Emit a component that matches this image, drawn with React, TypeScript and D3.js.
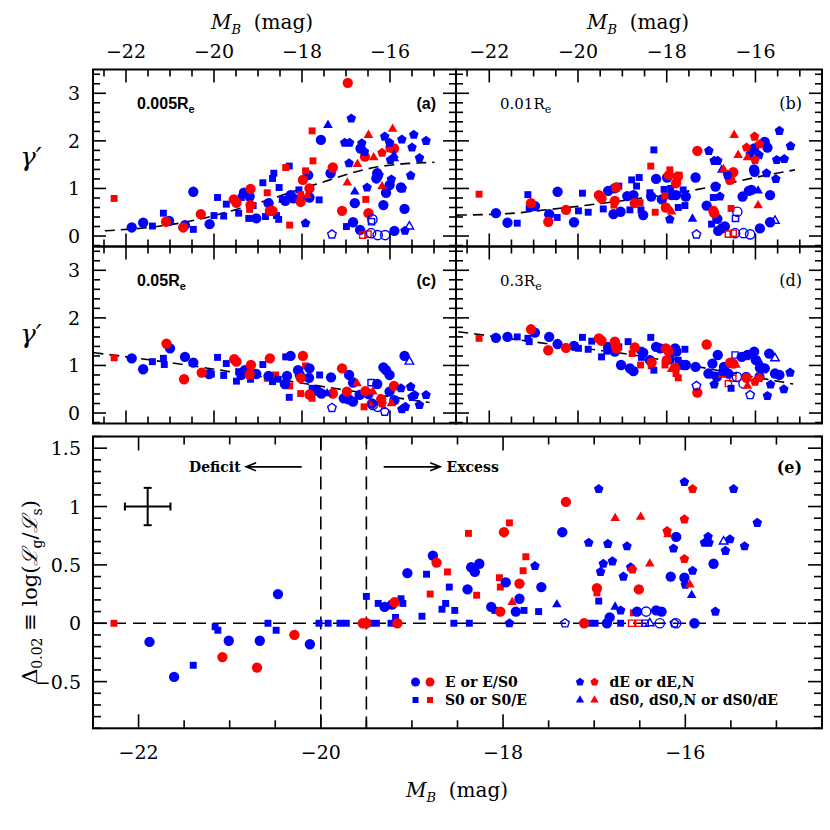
import React, { useEffect, useRef } from "react";
import * as d3 from "d3";

type Gal = { mb: number; v: number; type: string; col: string; open: boolean };

// helper: tag a group of [M_B, value] pairs with a morphology, colour and open/filled flag
function tag(type: string, col: string, pts: number[][], open = false): Gal[] {
  return pts.map(([mb, v]) => ({ mb, v, type, col, open }));
}

// ---- axis ticks ----
const magMajor = [-22, -20, -18, -16];
const magLabels = ["\u221222", "\u221220", "\u221218", "\u221216"];
const gammaMajor = [0, 1, 2, 3];
const gammaLabels = ["0", "1", "2", "3"];
const deltaMajor = [-0.5, 0, 0.5, 1, 1.5];
const deltaLabels = ["\u22120.5", "0", "0.5", "1", "1.5"];

// ---- panel (a): gamma' at 0.005 Re ----
const gamma0005: Gal[] = [
  ...tag("E", "b", [[-21.87,0.18],[-21.61,0.28],[-21.02,0.32],[-20.66,0.23],[-20.47,0.93],[-20.1,0.25],[-19.32,0.91],[-19.19,0.83],[-19.04,0.37],[-18.76,0.69],[-18.38,0.74],[-18.26,0.86],[-18.2,0.79],[-17.83,0.81],[-17.86,1.28],[-17.57,2.02],[-17.35,1.32],[-16.84,0.29],[-16.8,0.69],[-16.67,1.84],[-16.31,1.21],[-16.29,1.32],[-16.15,0.65],[-16.09,0.91],[-16.01,1.07],[-15.75,1.02],[-15.67,0.57],[-15.9,0.11],[-16.68,0.13]]),
  ...tag("S0", "b", [[-21.4,0.21],[-21.15,0.48],[-20.47,0.14],[-20.0,0.43],[-19.92,0.81],[-19.78,0.42],[-19.72,0.67],[-19.44,0.48],[-19.38,0.81],[-19.21,0.37],[-19.11,0.64],[-18.89,1.12],[-18.83,0.41],[-18.67,1.21],[-18.64,1.32],[-18.52,1.02],[-18.58,0.43],[-18.53,0.35],[-18.29,1.47],[-18.07,0.97],[-17.61,0.76],[-16.99,0.2],[-18.45,0.77]]),
  ...tag("E", "r", [[-21.09,0.3],[-20.7,0.18],[-20.3,0.46],[-19.55,0.77],[-19.49,0.7],[-19.17,0.99],[-19.17,0.65],[-18.73,0.53],[-18.67,0.53],[-18.03,0.72],[-17.98,1.18],[-17.83,1.0],[-17.3,1.44],[-17.09,0.53],[-16.96,3.22],[-16.57,1.67],[-16.49,0.48],[-15.99,1.86],[-15.91,1.84]]),
  ...tag("S0", "r", [[-22.27,0.79],[-19.19,0.56],[-18.79,0.91],[-18.37,1.44],[-18.28,0.23],[-18.03,0.87],[-17.92,1.37],[-17.75,1.58],[-17.77,2.21],[-16.55,0.77]]),
  ...tag("S0", "r", [[-16.62,0.02],[-16.5,0.04]], true),
  ...tag("dE", "b", [[-17.92,0.27],[-16.88,2.47],[-17.03,1.96],[-16.92,1.96],[-16.93,1.53],[-16.64,1.95],[-16.58,1.77],[-16.52,1.02],[-16.25,1.28],[-16.12,2.09],[-16.01,1.96],[-15.99,1.6],[-15.97,1.19],[-15.73,2.03],[-15.72,1.0],[-15.53,1.27],[-15.5,1.86],[-15.46,2.13],[-15.33,1.64],[-15.18,2.0],[-15.66,0.11]]),
  ...tag("dE", "b", [[-17.32,0.035]], true),
  ...tag("dE", "r", [[-16.18,1.75]]),
  ...tag("dS0", "b", [[-17.41,2.33],[-17.88,0.84],[-16.8,0.93],[-15.91,1.7],[-15.9,1.63]]),
  ...tag("dS0", "b", [[-15.56,0.2]], true),
  ...tag("dS0", "r", [[-16.49,2.12],[-15.94,2.25],[-16.37,1.65],[-16.74,1.51],[-16.97,1.12],[-16.18,1.04],[-17.88,0.85]]),
  ...tag("E", "b", [[-16.43,0.06],[-16.28,0.02],[-16.11,0.02],[-16.4,0.35]], true),
  ...tag("S0", "b", [[-16.42,0.3]], true),
];

// ---- panel (b): gamma' at 0.01 Re ----
const gamma001: Gal[] = [
  ...tag("E", "b", [[-21.85,0.48],[-21.59,0.28],[-20.97,0.63],[-20.65,0.46],[-20.46,0.93],[-20.09,0.29],[-19.32,0.95],[-19.18,1.0],[-19.2,0.46],[-19.04,0.51],[-18.89,0.84],[-18.75,0.86],[-18.53,0.44],[-18.35,0.83],[-18.24,1.2],[-18.11,0.77],[-17.99,1.23],[-17.89,0.86],[-17.79,0.86],[-17.57,0.83],[-17.35,1.23],[-17.1,0.64],[-16.9,1.04],[-16.86,0.36],[-16.84,0.11],[-16.76,0.16],[-16.69,0.2],[-16.29,0.83],[-16.15,0.95],[-16.09,0.97],[-15.9,0.16],[-16.03,1.84],[-16.03,1.4],[-16.02,1.35],[-15.79,1.98],[-15.73,1.86],[-15.67,0.86],[-15.67,0.29]]),
  ...tag("E", "b", [[-16.41,0.51],[-16.46,0.06],[-16.27,0.06],[-16.12,0.035]], true),
  ...tag("S0", "b", [[-21.37,0.27],[-21.13,0.87],[-21.1,0.58],[-20.47,0.39],[-19.99,0.53],[-19.9,0.9],[-19.77,0.5],[-19.43,0.57],[-19.08,1.05],[-18.83,0.55],[-18.79,1.18],[-18.68,1.05],[-18.62,1.23],[-18.58,0.55],[-18.38,0.91],[-18.29,1.81],[-18.06,0.98],[-17.91,1.0],[-17.74,0.6],[-17.63,0.97],[-17.59,0.64],[-16.99,0.25],[-16.95,0.81]]),
  ...tag("S0", "b", [[-16.45,0.37]], true),
  ...tag("E", "r", [[-21.06,0.69],[-20.67,0.3],[-20.27,0.55],[-19.53,0.86],[-19.47,0.79],[-19.14,1.02],[-19.17,0.74],[-18.72,0.69],[-18.02,0.6],[-17.95,1.28],[-17.79,1.11],[-17.75,1.25],[-17.31,1.79],[-16.95,0.53],[-16.93,0.48],[-16.5,1.34],[-16.57,1.18]]),
  ...tag("S0", "r", [[-22.23,0.88],[-19.19,0.65],[-18.6,0.7],[-18.36,1.47],[-18.26,0.5],[-18.04,0.84],[-17.93,1.39],[-17.72,1.28],[-16.55,0.58]]),
  ...tag("S0", "r", [[-16.61,0.04],[-16.5,0.06]], true),
  ...tag("dE", "b", [[-17.93,0.35],[-17.05,1.79],[-16.93,1.58],[-16.85,1.58],[-16.8,0.83],[-16.63,1.28],[-16.12,1.72],[-15.92,1.7],[-15.75,1.32],[-15.54,1.2],[-15.52,1.6],[-15.46,2.21],[-15.35,1.62],[-15.21,1.89]]),
  ...tag("dE", "b", [[-17.33,0.035]], true),
  ...tag("dE", "r", [[-16.2,1.86],[-16.01,1.6],[-16.02,2.09],[-15.91,1.93]]),
  ...tag("dS0", "b", [[-17.42,0.36],[-16.76,1.39],[-15.94,0.95]]),
  ...tag("dS0", "b", [[-15.56,0.32]], true),
  ...tag("dS0", "r", [[-17.89,0.51],[-16.72,1.4],[-15.94,0.64],[-16.48,2.12],[-16.39,1.7],[-16.18,1.65]]),
];

// ---- panel (c): gamma' at 0.05 Re ----
const gamma005: Gal[] = [
  ...tag("S0", "r", [[-22.27,1.16],[-19.19,0.9],[-18.79,0.73],[-18.6,0.8],[-18.28,0.57],[-17.92,0.99],[-18.03,0.41],[-17.77,0.31],[-16.59,0.13]]),
  ...tag("E", "b", [[-21.87,1.15],[-21.61,0.92],[-21.0,1.36],[-20.66,1.18],[-20.47,1.06],[-20.11,0.82],[-19.38,0.8],[-19.3,0.9],[-19.04,0.82],[-18.76,0.78],[-18.39,0.61],[-18.34,0.78],[-18.26,1.2],[-18.09,0.9],[-18.05,0.8],[-17.83,0.94],[-17.84,0.74],[-17.66,0.47],[-17.56,0.41],[-17.34,0.75],[-16.93,0.8],[-16.84,0.64],[-17.05,0.31],[-16.94,0.29],[-16.84,0.24],[-16.69,0.38],[-16.49,0.4],[-16.41,0.2],[-16.29,0.61],[-16.15,0.96],[-16.09,0.9],[-16.01,0.8],[-16.01,0.45],[-15.9,0.27],[-15.67,1.2]]),
  ...tag("S0", "b", [[-21.4,1.08],[-21.15,1.15],[-21.13,1.02],[-20.06,0.82],[-19.92,1.17],[-19.78,0.79],[-19.72,1.04],[-19.49,0.67],[-19.44,0.87],[-19.17,0.71],[-18.89,1.02],[-18.67,0.66],[-18.54,0.71],[-18.29,0.33],[-18.37,1.18],[-17.77,0.52],[-17.6,0.8]]),
  ...tag("E", "r", [[-21.08,1.46],[-20.68,0.71],[-20.28,0.85],[-19.54,1.13],[-19.49,1.08],[-19.16,1.01],[-19.19,0.81],[-18.73,1.15],[-17.98,1.2],[-18.03,0.74],[-17.83,0.39],[-17.3,0.41],[-17.09,0.94],[-16.98,0.45],[-16.56,0.46],[-16.2,0.29],[-15.91,0.57]]),
  ...tag("dS0", "b", [[-17.43,0.41],[-16.8,0.64]]),
  ...tag("dS0", "b", [[-15.56,1.08]], true),
  ...tag("dS0", "r", [[-16.75,0.62],[-16.39,0.45],[-16.46,0.2],[-15.97,0.2]]),
  ...tag("dE", "b", [[-17.32,0.11],[-16.12,0.03]], true),
  ...tag("S0", "b", [[-16.43,0.64]], true),
  ...tag("E", "b", [[-16.39,0.17],[-16.28,0.13]], true),
  ...tag("dE", "r", [[-16.18,0.2]]),
  ...tag("dE", "b", [[-15.75,0.52],[-15.73,0.08],[-15.65,0.13],[-15.53,0.55],[-15.5,0.34],[-15.44,0.38],[-15.33,0.17],[-15.18,0.38]]),
];

// ---- panel (d): gamma' at 0.3 Re ----
const gamma03: Gal[] = [
  ...tag("S0", "r", [[-22.23,1.57],[-18.78,1.25],[-18.59,1.01],[-18.35,0.99],[-18.04,1.01],[-17.79,0.83],[-17.74,0.74]]),
  ...tag("S0", "r", [[-16.61,0.62],[-16.51,0.73]], true),
  ...tag("E", "b", [[-21.85,1.58],[-21.59,1.6],[-20.97,1.69],[-20.65,1.6],[-20.46,1.45],[-20.09,1.41],[-19.32,1.39],[-19.17,1.29],[-19.03,1.01],[-18.83,0.94],[-18.75,0.88],[-18.53,1.27],[-18.38,1.11],[-18.24,1.39],[-18.15,1.36],[-17.93,1.13],[-17.81,1.36],[-17.78,1.29],[-17.63,1.01],[-17.57,1.01],[-17.35,0.97],[-16.97,1.04],[-17.06,0.83],[-16.85,1.22],[-16.87,0.76],[-16.71,0.97],[-16.61,0.83],[-16.31,1.18],[-16.21,0.76],[-16.18,1.22],[-16.03,1.29],[-15.99,1.11],[-15.9,0.95],[-15.79,0.94],[-15.91,0.76],[-15.69,1.25],[-15.56,0.83],[-15.46,0.8]]),
  ...tag("E", "b", [[-16.42,0.76],[-16.27,0.62]], true),
  ...tag("S0", "b", [[-21.37,1.6],[-21.13,1.57],[-21.1,1.5],[-19.99,1.36],[-19.9,1.59],[-19.77,1.34],[-19.69,1.51],[-19.47,1.18],[-19.35,1.3],[-19.2,1.39],[-19.08,1.39],[-18.87,1.5],[-18.6,1.32],[-18.57,1.17],[-18.36,1.59],[-18.29,0.9],[-17.74,1.11],[-17.59,1.34],[-16.95,0.8],[-16.55,0.52]]),
  ...tag("S0", "b", [[-16.46,1.22]], true),
  ...tag("E", "r", [[-21.06,1.76],[-20.67,1.32],[-20.27,1.37],[-19.53,1.57],[-19.47,1.52],[-19.17,1.5],[-19.15,1.43],[-19.13,1.36],[-18.72,1.38],[-18.34,1.06],[-18.02,1.36],[-17.96,1.3],[-18.0,1.11],[-17.81,0.95],[-17.31,0.43],[-17.1,1.44],[-16.57,1.06],[-16.5,1.04],[-16.2,0.74]]),
  ...tag("dS0", "r", [[-17.89,0.92],[-16.75,0.8],[-16.44,1.01],[-16.18,0.57]]),
  ...tag("dS0", "b", [[-15.92,1.09]]),
  ...tag("dS0", "b", [[-15.56,1.15]], true),
  ...tag("dE", "b", [[-16.93,0.6],[-16.74,0.87],[-15.66,0.6],[-15.73,0.36],[-15.36,0.5],[-15.22,0.85]]),
  ...tag("dE", "b", [[-17.33,0.57],[-16.12,0.38]], true),
  ...tag("dE", "r", [[-16.01,0.66],[-15.91,0.74]]),
];

// ---- panel (e): Delta_0.02 = log(Lg/Ls) ----
const delta002: Gal[] = [
  ...tag("S0", "r", [[-22.27,0],[-18.8,0.25],[-18.61,0.44],[-18.29,0.24],[-18.38,0.77],[-17.93,0.86],[-18.04,0.39],[-18.03,0.31],[-17.78,0.45],[-17.75,0.57],[-16.97,0.26],[-16.57,0.09]]),
  ...tag("S0", "r", [[-16.59,0],[-16.51,0]], true),
  ...tag("E", "b", [[-21.88,-0.16],[-21.61,-0.46],[-21.01,-0.15],[-20.67,-0.15],[-20.47,0.25],[-20.12,-0.18],[-19.3,0.14],[-19.22,0.16],[-19.05,0.43],[-18.77,0.58],[-18.39,0.29],[-18.35,0.48],[-18.31,0.44],[-18.26,0.51],[-17.97,0.35],[-17.82,0.21],[-17.86,0.1],[-18.13,0.14],[-17.58,0.31],[-17.35,0.78],[-16.86,0],[-16.83,0.05],[-16.53,0.1],[-16.32,0.11],[-16.26,0.1],[-16.16,0.4],[-16.1,0.74],[-16.01,0.39],[-15.9,0],[-15.69,0.51]]),
  ...tag("E", "b", [[-16.43,0.1],[-16.28,0],[-16.1,0]], true),
  ...tag("S0", "b", [[-21.4,-0.36],[-21.16,-0.03],[-21.13,-0.06],[-20.58,0],[-20.49,-0.06],[-20.02,0],[-19.92,0],[-19.79,0],[-19.72,0],[-19.5,0.23],[-19.46,0],[-19.39,0],[-19.37,0.17],[-19.23,0],[-19.18,0.05],[-19.12,0.21],[-19.1,0.17],[-18.89,0.06],[-18.84,0.42],[-18.59,0.31],[-18.63,0.17],[-18.67,0.12],[-18.53,0.11],[-18.54,0],[-18.37,0],[-18.09,0.11],[-17.77,0.11],[-17.61,0.1],[-17.05,0],[-16.99,0],[-16.95,0.19],[-16.71,0]]),
  ...tag("S0", "b", [[-16.44,0]], true),
  ...tag("E", "r", [[-21.08,-0.29],[-20.7,-0.38],[-20.29,-0.1],[-19.54,0],[-19.5,0],[-19.19,0.18],[-19.16,0],[-18.73,0.52],[-17.99,0.78],[-18.03,0.1],[-17.82,0.34],[-17.31,1.04],[-17.11,0],[-16.97,0.3],[-16.51,0.29]]),
  ...tag("dE", "b", [[-17.93,0],[-17.65,0.49],[-17.06,0.69],[-16.95,1.15],[-16.93,0.44],[-16.9,0.51],[-16.85,0.68],[-16.8,0.53],[-16.71,0.11],[-16.68,0.4],[-16.64,0.66],[-16.6,0.48],[-16.13,0.64],[-16.01,1.21],[-16.0,0.33],[-15.92,0.45],[-15.67,0.1],[-15.79,0.69],[-15.74,0.69],[-15.75,0.74],[-15.56,0.62],[-15.51,0.72],[-15.47,1.15],[-15.35,0.66],[-15.21,0.86]]),
  ...tag("dE", "b", [[-17.32,0],[-16.12,0]], true),
  ...tag("dE", "r", [[-16.58,0.46],[-16.2,0.79],[-16.01,0.89],[-16.01,0.55],[-15.92,1.15]]),
  ...tag("dS0", "b", [[-17.41,0.16],[-16.77,0.14],[-15.93,0.24]]),
  ...tag("dS0", "b", [[-16.39,0],[-15.58,0.7]], true),
  ...tag("dS0", "r", [[-17.9,0.18],[-16.77,0.9],[-16.49,0.91],[-16.39,0.51],[-16.19,0.76],[-15.95,0.33]]),
];

// dashed fits through each gamma' panel
const fit0005 = [[-22.48,0.11],[-21.6,0.17],[-20.78,0.27],[-19.26,0.62],[-17.75,1.07],[-16.24,1.46],[-14.99,1.55]];
const fit001 = [[-22.73,0.44],[-21.6,0.47],[-20.63,0.56],[-19.35,0.7],[-18.23,0.84],[-16.95,1.04],[-15.75,1.28],[-15.11,1.39]];
const fit005 = [[-22.74,1.27],[-20.78,1.03],[-18.89,0.76],[-17.0,0.48],[-15.1,0.22]];
const fit03 = [[-22.7,1.71],[-20.63,1.45],[-18.75,1.22],[-16.87,0.9],[-15.15,0.61]];

// typical error bar in panel (e)
const errBar = { mb: -21.9, v: 1.0, dx: 0.25, dy: 0.16 };

const BLUE = "#0000ff";
const RED = "#ff0000";
const colourOf: Record<string, string> = { b: BLUE, r: RED };

const pentagon = {
  draw(ctx: any, size: number) {
    const r = Math.sqrt(size / 2.3776);
    for (let i = 0; i < 5; i++) {
      const a = -Math.PI / 2 + (i * 2 * Math.PI) / 5;
      if (i === 0) ctx.moveTo(r * Math.cos(a), r * Math.sin(a));
      else ctx.lineTo(r * Math.cos(a), r * Math.sin(a));
    }
    ctx.closePath();
  },
};
const symbolOf: Record<string, any> = { E: d3.symbolCircle, S0: d3.symbolSquare, dE: pentagon, dS0: d3.symbolTriangle };
const areaOf: Record<string, number> = { E: 84, S0: 48, dE: 60, dS0: 40 };

const SERIF = "'DejaVu Serif', serif";
const SANS = "'Liberation Sans', Arial, sans-serif";

function drawMarks(g: any, data: Gal[], x: any, y: any) {
  g.selectAll(null)
    .data(data)
    .join("path")
    .attr("transform", (d: Gal) => `translate(${x(d.mb)},${y(d.v)})`)
    .attr("d", (d: Gal) => d3.symbol(symbolOf[d.type], areaOf[d.type] * (d.open ? 0.8 : 1))())
    .attr("fill", (d: Gal) => (d.open ? "none" : colourOf[d.col]))
    .attr("stroke", (d: Gal) => (d.open ? colourOf[d.col] : "none"))
    .attr("stroke-width", 1.4);
}

function drawFrame(g: any, x: any, y: any, xMaj: number[], xMin: number[], yMaj: number[], yMin: number[], majLen: number, minLen: number) {
  const [L, R] = x.range();
  const [B, T] = y.range();
  const segs: number[][] = [];
  xMin.forEach((v) => segs.push([x(v), B, x(v), B - minLen], [x(v), T, x(v), T + minLen]));
  xMaj.forEach((v) => segs.push([x(v), B, x(v), B - majLen], [x(v), T, x(v), T + majLen]));
  yMin.forEach((v) => segs.push([L, y(v), L + minLen, y(v)], [R, y(v), R - minLen, y(v)]));
  yMaj.forEach((v) => segs.push([L, y(v), L + majLen, y(v)], [R, y(v), R - majLen, y(v)]));
  g.selectAll(null)
    .data(segs)
    .join("line")
    .attr("x1", (d: number[]) => d[0])
    .attr("y1", (d: number[]) => d[1])
    .attr("x2", (d: number[]) => d[2])
    .attr("y2", (d: number[]) => d[3])
    .attr("stroke", "#000")
    .attr("stroke-width", 1.6);
  g.append("rect")
    .attr("x", L)
    .attr("y", T)
    .attr("width", R - L)
    .attr("height", B - T)
    .attr("fill", "none")
    .attr("stroke", "#000")
    .attr("stroke-width", 2);
}

export default function App() {
  const gRef = useRef<SVGGElement>(null);

  useEffect(() => {
    const root = d3.select(gRef.current);
    root.selectAll("*").remove();

    const L = 93, MID = 456, R = 822;
    const ROW1 = 69.5, ROW2 = 246.5, ROW3 = 423.5;
    const magMinor = d3.range(-22.5, -14.49, 0.5).filter((v) => !magMajor.includes(v));
    const gMinor = d3.range(-0.2, 3.51, 0.2).map((v) => +v.toFixed(1)).filter((v) => !gammaMajor.includes(v));

    const panels = [
      { data: gamma0005, fit: fit0005, x0: L, x1: MID, y0: ROW1, y1: ROW2, rad: "0.005", tag: "(a)", bold: true, topLab: true, leftLab: true },
      { data: gamma001, fit: fit001, x0: MID, x1: R, y0: ROW1, y1: ROW2, rad: "0.01", tag: "(b)", bold: false, topLab: true, leftLab: false },
      { data: gamma005, fit: fit005, x0: L, x1: MID, y0: ROW2, y1: ROW3, rad: "0.05", tag: "(c)", bold: true, topLab: false, leftLab: true },
      { data: gamma03, fit: fit03, x0: MID, x1: R, y0: ROW2, y1: ROW3, rad: "0.3", tag: "(d)", bold: false, topLab: false, leftLab: false },
    ];

    panels.forEach((p) => {
      const x = d3.scaleLinear().domain([-22.75, -14.5]).range([p.x0, p.x1]);
      const y = d3.scaleLinear().domain([-0.22, 3.5]).range([p.y1, p.y0]);
      const g = root.append("g");

      g.append("path")
        .datum(p.fit)
        .attr("d", d3.line().x((d: any) => x(d[0])).y((d: any) => y(d[1])).curve(d3.curveMonotoneX) as any)
        .attr("fill", "none")
        .attr("stroke", "#000")
        .attr("stroke-width", 1.6)
        .attr("stroke-dasharray", "10,6");

      drawMarks(g, p.data, x, y);
      drawFrame(g, x, y, magMajor, magMinor, gammaMajor, gMinor, 13, 7);

      if (p.topLab) {
        g.selectAll(null)
          .data(magMajor)
          .join("text")
          .attr("x", (d: number) => x(d))
          .attr("y", p.y0 - 12)
          .attr("text-anchor", "middle")
          .attr("font-family", SERIF)
          .attr("font-size", 19)
          .text((d: number, i: number) => magLabels[i]);
      }
      if (p.leftLab) {
        g.selectAll(null)
          .data(gammaMajor)
          .join("text")
          .attr("x", p.x0 - 13)
          .attr("y", (d: number) => y(d) + 7)
          .attr("text-anchor", "end")
          .attr("font-family", SERIF)
          .attr("font-size", 19)
          .text((d: number, i: number) => gammaLabels[i]);
      }

      // bold sans labels on the left column, plain serif on the right column
      const lab = g.append("text")
        .attr("x", p.x0 + 44)
        .attr("y", p.y0 + 39)
        .attr("font-family", p.bold ? SANS : SERIF)
        .attr("font-weight", p.bold ? "bold" : "normal")
        .attr("font-size", p.bold ? 16 : 15);
      lab.append("tspan").text(p.rad + "R");
      lab.append("tspan").attr("dy", 4).attr("font-size", 11).text("e");

      g.append("text")
        .attr("x", p.x1 - 20)
        .attr("y", p.y0 + 39)
        .attr("text-anchor", "end")
        .attr("font-family", p.bold ? SANS : SERIF)
        .attr("font-weight", p.bold ? "bold" : "normal")
        .attr("font-size", 16)
        .text(p.tag);
    });

    // ---- panel (e) ----
    const xe = d3.scaleLinear().domain([-22.5, -14.5]).range([L, R]);
    const ye = d3.scaleLinear().domain([-0.9, 1.6]).range([728.3, 436.5]);
    const ge = root.append("g");
    const dMinor = d3.range(-0.9, 1.61, 0.1).map((v) => +v.toFixed(1)).filter((v) => !deltaMajor.includes(v));

    const dash = "13,7";
    ge.append("line").attr("x1", L).attr("x2", R).attr("y1", ye(0)).attr("y2", ye(0))
      .attr("stroke", "#000").attr("stroke-width", 1.6).attr("stroke-dasharray", dash);
    [-20, -19.5].forEach((v) =>
      ge.append("line").attr("x1", xe(v)).attr("x2", xe(v)).attr("y1", ye(1.6)).attr("y2", ye(-0.9))
        .attr("stroke", "#000").attr("stroke-width", 1.6).attr("stroke-dasharray", dash)
    );

    // typical error bar
    const cx = xe(errBar.mb), cy = ye(errBar.v);
    const ex0 = xe(errBar.mb - errBar.dx), ex1 = xe(errBar.mb + errBar.dx);
    const ey0 = ye(errBar.v - errBar.dy), ey1 = ye(errBar.v + errBar.dy);
    const eb = ge.append("g").attr("stroke", "#000").attr("stroke-width", 2);
    eb.append("line").attr("x1", ex0).attr("x2", ex1).attr("y1", cy).attr("y2", cy);
    eb.append("line").attr("x1", cx).attr("x2", cx).attr("y1", ey0).attr("y2", ey1);
    eb.append("line").attr("x1", ex0).attr("x2", ex0).attr("y1", cy - 4).attr("y2", cy + 4);
    eb.append("line").attr("x1", ex1).attr("x2", ex1).attr("y1", cy - 4).attr("y2", cy + 4);
    eb.append("line").attr("x1", cx - 4).attr("x2", cx + 4).attr("y1", ey0).attr("y2", ey0);
    eb.append("line").attr("x1", cx - 4).attr("x2", cx + 4).attr("y1", ey1).attr("y2", ey1);

    // Deficit / Excess arrows
    const ay = ye(1.34);
    const arrow = (from: number, to: number) => {
      const a = xe(from), b = xe(to);
      const s = Math.sign(b - a);
      ge.append("path")
        .attr("d", `M${a},${ay}L${b},${ay}M${b - s * 10},${ay - 4}L${b},${ay}L${b - s * 10},${ay + 4}`)
        .attr("fill", "none").attr("stroke", "#000").attr("stroke-width", 1.6);
    };
    arrow(-20.21, -20.82);
    arrow(-19.31, -18.69);
    ge.append("text").attr("x", xe(-20.88)).attr("y", ay + 5).attr("text-anchor", "end")
      .attr("font-family", SERIF).attr("font-weight", "bold").attr("font-size", 14).text("Deficit");
    ge.append("text").attr("x", xe(-18.62)).attr("y", ay + 5)
      .attr("font-family", SERIF).attr("font-weight", "bold").attr("font-size", 14).text("Excess");
    ge.append("text").attr("x", R - 20).attr("y", ay + 6).attr("text-anchor", "end")
      .attr("font-family", SERIF).attr("font-weight", "bold").attr("font-size", 16).text("(e)");

    drawMarks(ge, delta002, xe, ye);
    drawFrame(ge, xe, ye, magMajor, magMinor.filter((v) => v > -22.5), deltaMajor, dMinor, 14, 8);

    ge.selectAll(null)
      .data(magMajor)
      .join("text")
      .attr("x", (d: number) => xe(d))
      .attr("y", 759)
      .attr("text-anchor", "middle")
      .attr("font-family", SERIF)
      .attr("font-size", 19)
      .text((d: number, i: number) => magLabels[i]);
    ge.selectAll(null)
      .data(deltaMajor)
      .join("text")
      .attr("x", L - 12)
      .attr("y", (d: number) => ye(d) + 7)
      .attr("text-anchor", "end")
      .attr("font-family", SERIF)
      .attr("font-size", 19)
      .text((d: number, i: number) => deltaLabels[i]);

    // legend
    const legend = [
      { type: "E", label: "E or E/S0", col: 0, row: 0 },
      { type: "S0", label: "S0 or S0/E", col: 0, row: 1 },
      { type: "dE", label: "dE or dE,N", col: 1, row: 0 },
      { type: "dS0", label: "dS0, dS0,N or dS0/dE", col: 1, row: 1 },
    ];
    const lg = ge.append("g");
    legend.forEach((it) => {
      const lx = it.col ? 580 : 415.5;
      const ly = it.row ? 700 : 682;
      ["b", "r"].forEach((c, k) =>
        lg.append("path")
          .attr("transform", `translate(${lx + k * 14.5},${ly})`)
          .attr("d", d3.symbol(symbolOf[it.type], areaOf[it.type] * 0.75)())
          .attr("fill", colourOf[c])
      );
      lg.append("text").attr("x", lx + 29.5).attr("y", ly + 5)
        .attr("font-family", SERIF).attr("font-weight", "bold").attr("font-size", 14).text(it.label);
    });
  }, []);

  const title = (cx: number, cy: number) => (
    <text x={cx} y={cy} textAnchor="middle" fontFamily={SERIF} fontSize={20} xmlSpace="preserve">
      <tspan fontStyle="italic">M</tspan>
      <tspan fontStyle="italic" fontSize={13} dy={5}>B</tspan>
      <tspan dy={-5}>{"  (mag)"}</tspan>
    </text>
  );

  return (
    <svg width={830} height={830} style={{ position: "absolute", left: 0, top: 0, background: "#fff" }}>
      {title(262, 29)}
      {title(638, 29)}
      {title(457, 797)}
      <text x={31} y={166} textAnchor="middle" fontFamily={SERIF} fontStyle="italic" fontSize={26}>γ′</text>
      <text x={31} y={343} textAnchor="middle" fontFamily={SERIF} fontStyle="italic" fontSize={26}>γ′</text>
      <text transform="translate(37,592) rotate(-90)" textAnchor="middle" fontFamily={SERIF} fontSize={21}>
        <tspan>Δ</tspan>
        <tspan fontSize={14} dy={5}>0.02</tspan>
        <tspan dy={-5}>{" ≡ log("}</tspan>
        <tspan fontStyle="italic">ℒ</tspan>
        <tspan fontSize={14} dy={5}>g</tspan>
        <tspan dy={-5}>/</tspan>
        <tspan fontStyle="italic">ℒ</tspan>
        <tspan fontSize={14} dy={5}>s</tspan>
        <tspan dy={-5}>)</tspan>
      </text>
      <g ref={gRef} />
    </svg>
  );
}
